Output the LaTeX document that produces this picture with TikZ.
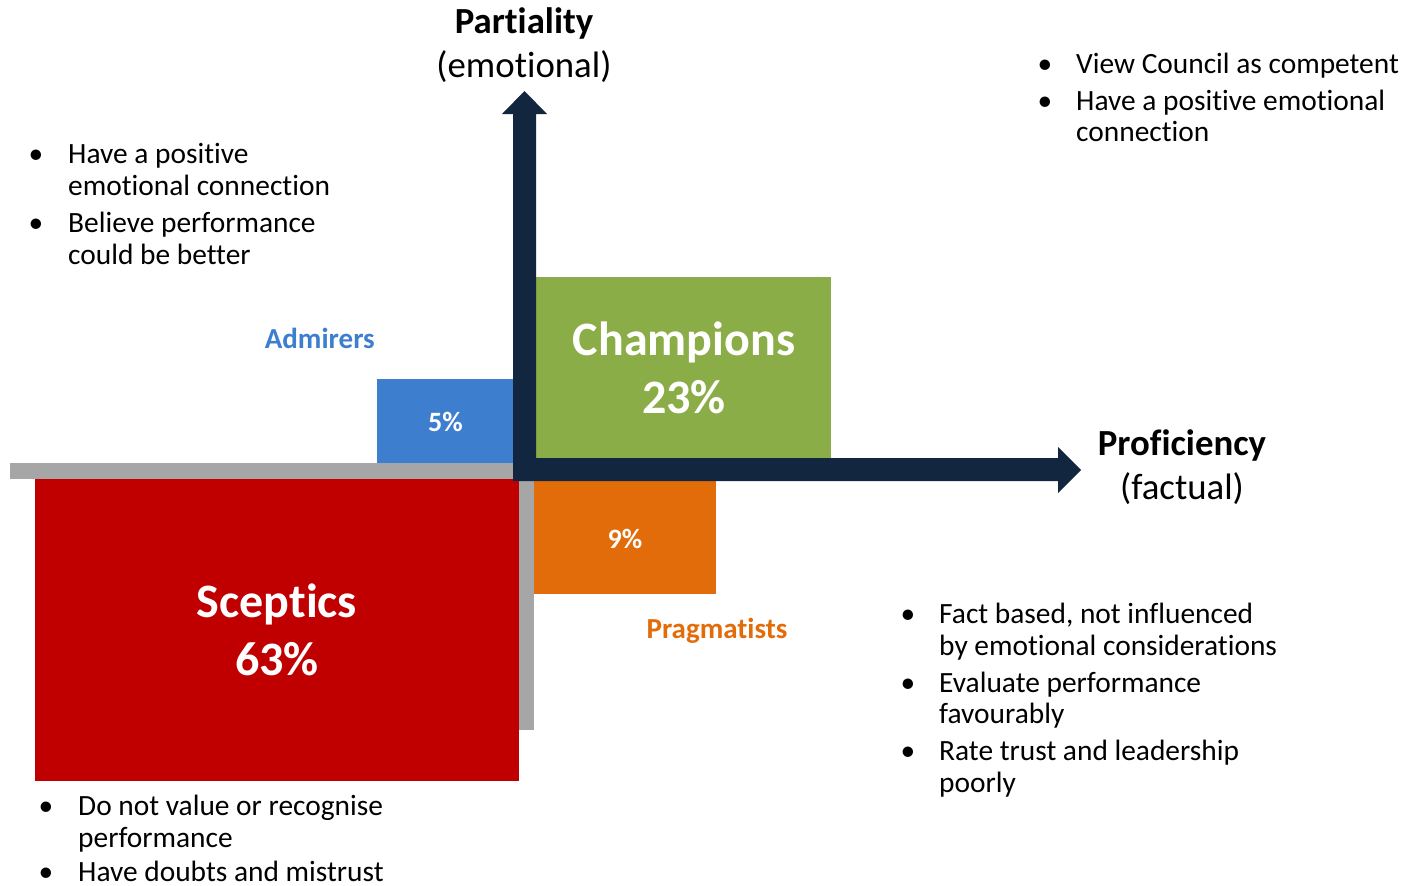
\documentclass[tikz,border=0pt]{standalone}
\usepackage{fontspec}
\setmainfont{Carlito}[RawFeature={-liga;-calt}]
\definecolor{navy}{RGB}{18,38,63}
\definecolor{champ}{RGB}{139,173,71}
\definecolor{admblue}{RGB}{61,126,207}
\definecolor{scred}{RGB}{192,0,0}
\definecolor{pragor}{RGB}{227,108,10}
\definecolor{barg}{RGB}{166,166,166}
\tikzset{
  box/.style={anchor=north west, inner sep=0pt, outer sep=0pt, draw=none},
  bigtxt/.style={text=white, font=\bfseries\fontsize{48}{58}\selectfont, anchor=base, inner sep=0pt},
  pcttxt/.style={text=white, font=\bfseries\fontsize{28}{32}\selectfont, anchor=base, inner sep=0pt},
  grptxt/.style={font=\bfseries\fontsize{29}{32}\selectfont, anchor=base, inner sep=0pt},
  axb/.style={font=\bfseries\fontsize{36.8}{44}\selectfont, anchor=base, inner sep=0pt},
  axr/.style={font=\fontsize{36.8}{44}\selectfont, anchor=base, inner sep=0pt},
  bl/.style={font=\fontsize{29.4}{32}\selectfont, anchor=base west, inner sep=0pt},
  dot/.style={font=\fontsize{29.4}{32}\selectfont, anchor=base, inner sep=0pt},
}
\begin{document}
\begin{tikzpicture}[x=1pt,y=-1pt]
\useasboundingbox (0,0) rectangle (1414,886);
% grey bars
\node[box, fill=barg, minimum width=503pt, minimum height=16pt] (hbar) at (10,463) {};
\node[box, fill=barg, minimum width=15pt, minimum height=251pt] (vbar) at (519,479) {};
% quadrant boxes
\node[box, fill=scred, minimum width=484pt, minimum height=302pt] (scep) at (35,479) {};
\node[box, fill=admblue, minimum width=137pt, minimum height=84pt] (adm) at (377,379) {};
\node[box, fill=champ, minimum width=295pt, minimum height=182pt] (champ) at (536,277) {};
\node[box, fill=pragor, minimum width=182pt, minimum height=113pt] (prag) at (534,481) {};
% axes (L-shaped double arrow)
\fill[navy] (513,114) -- (502,114) -- (524.5,91) -- (547,114) -- (536,114) -- (536,458)
  -- (1058,458) -- (1058,447) -- (1081,470) -- (1058,493) -- (1058,481) -- (513,481) -- cycle;
% axis labels
\node[axb] (partT) at (524,33) {Partiality};
\node[axr] (partS) at (524,77) {(emotional)};
\node[axb] (profT) at (1182,455) {Proficiency};
\node[axr] (profS) at (1182,499) {(factual)};
% box texts
\node[bigtxt] (champA) at (684,355) {Champions};
\node[bigtxt] (champB) at (684,413) {23\%};
\node[bigtxt] (scepA) at (277,617) {Sceptics};
\node[bigtxt] (scepB) at (277,675) {63\%};
\node[pcttxt] (admP) at (445.5,431) {5\%};
\node[pcttxt] (pragP) at (625,548) {9\%};
\node[grptxt, text=admblue, anchor=base east] (admL) at (375,348) {Admirers};
\node[grptxt, text=pragor] (pragL) at (717,638) {Pragmatists};
% top-left bullets
\node[dot] (tlb1) at (36,163) {•};
\node[bl] (tl1) at (68,163) {Have a positive};
\node[bl] (tl2) at (68,195) {emotional connection};
\node[dot] (tlb2) at (36,232) {•};
\node[bl] (tl3) at (68,232) {Believe performance};
\node[bl] (tl4) at (68,264) {could be better};
% top-right bullets
\node[dot] (trb1) at (1045,73) {•};
\node[bl] (tr1) at (1076,73) {View Council as competent};
\node[dot] (trb2) at (1045,110) {•};
\node[bl] (tr2) at (1076,110) {Have a positive emotional};
\node[bl] (tr3) at (1076,141) {connection};
% bottom-right bullets
\node[dot] (brb1) at (908,623) {•};
\node[bl] (br1) at (939,623) {Fact based, not influenced};
\node[bl] (br2) at (939,655) {by emotional considerations};
\node[dot] (brb2) at (908,692) {•};
\node[bl] (br3) at (939,692) {Evaluate performance};
\node[bl] (br4) at (939,723) {favourably};
\node[dot] (brb3) at (908,760) {•};
\node[bl] (br5) at (939,760) {Rate trust and leadership};
\node[bl] (br6) at (939,792) {poorly};
% bottom-left bullets
\node[dot] (blb1) at (46,815) {•};
\node[bl] (bl1) at (78,815) {Do not value or recognise};
\node[bl] (bl2) at (78,847) {performance};
\node[dot] (blb2) at (46,881) {•};
\node[bl] (bl3) at (78,881) {Have doubts and mistrust};
\end{tikzpicture}
\end{document}
